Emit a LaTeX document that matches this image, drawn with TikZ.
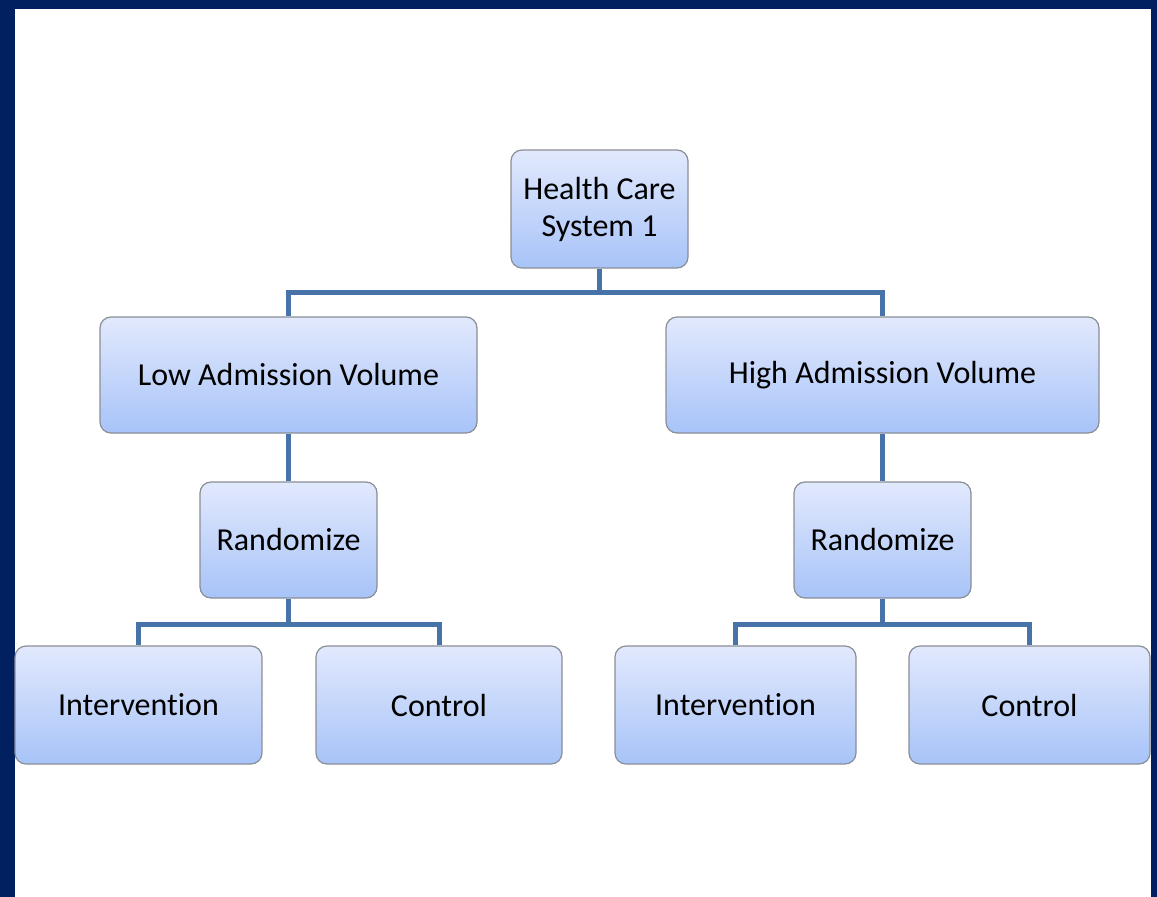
\documentclass[tikz,border=0pt]{standalone}
\usepackage{fontspec}
\setmainfont{Carlito}[Ligatures={NoCommon}]
\usepackage{tikz}
\usetikzlibrary{positioning}

\definecolor{framenavy}{HTML}{002060}
\definecolor{boxtop}{HTML}{E2E9FD}
\definecolor{boxbot}{HTML}{A7C3F8}
\definecolor{boxline}{HTML}{8A8E96}
\definecolor{linkblue}{HTML}{4773A8}

\begin{document}
\begin{tikzpicture}[x=1pt, y=-1pt]

% Define block styles
\tikzstyle{box} = [draw=boxline, line width=1.2pt, rounded corners=11pt,
  top color=boxtop, bottom color=boxbot, align=center,
  font=\fontsize{32}{37}\selectfont, inner sep=0pt]
\tikzstyle{link} = [draw=linkblue, line width=5pt]

% Frame
\fill[framenavy] (0,0) rectangle (1157,897);
\fill[white] (15,9) rectangle (1151,897);
\useasboundingbox (0,0) rectangle (1157,897);

% Nodes
\node [box, minimum width=177pt, minimum height=118pt] (hcs) at (599.5,209) {Health Care\\System 1};
\node [box, minimum width=377pt, minimum height=116pt] (low) at (288.5,375) {Low Admission Volume};
\node [box, minimum width=433pt, minimum height=116pt] (high) at (882.5,375) {High Admission Volume};
\node [box, minimum width=177pt, minimum height=116pt] (randL) at (288.5,540) {Randomize};
\node [box, minimum width=177pt, minimum height=116pt] (randR) at (882.5,540) {Randomize};
\node [box, minimum width=247pt, minimum height=118pt] (intL) at (138.5,705) {Intervention};
\node [box, minimum width=246pt, minimum height=118pt] (ctlL) at (439,705) {Control};
\node [box, minimum width=241pt, minimum height=118pt] (intR) at (735.5,705) {Intervention};
\node [box, minimum width=241pt, minimum height=118pt] (ctlR) at (1029.5,705) {Control};

% Joints
\coordinate (bus1) at (599.5,292);
\coordinate (busL) at (288.5,624);
\coordinate (busR) at (882.5,624);

% Connections
\draw [link] (hcs.south) -- (bus1) -| (low.north);
\draw [link] (bus1) -| (high.north);
\draw [link] (low.south) -- (randL.north);
\draw [link] (high.south) -- (randR.north);
\draw [link] (randL.south) -- (busL) -| (intL.north);
\draw [link] (busL) -| (ctlL.north);
\draw [link] (randR.south) -- (busR) -| (intR.north);
\draw [link] (busR) -| (ctlR.north);

\end{tikzpicture}
\end{document}
